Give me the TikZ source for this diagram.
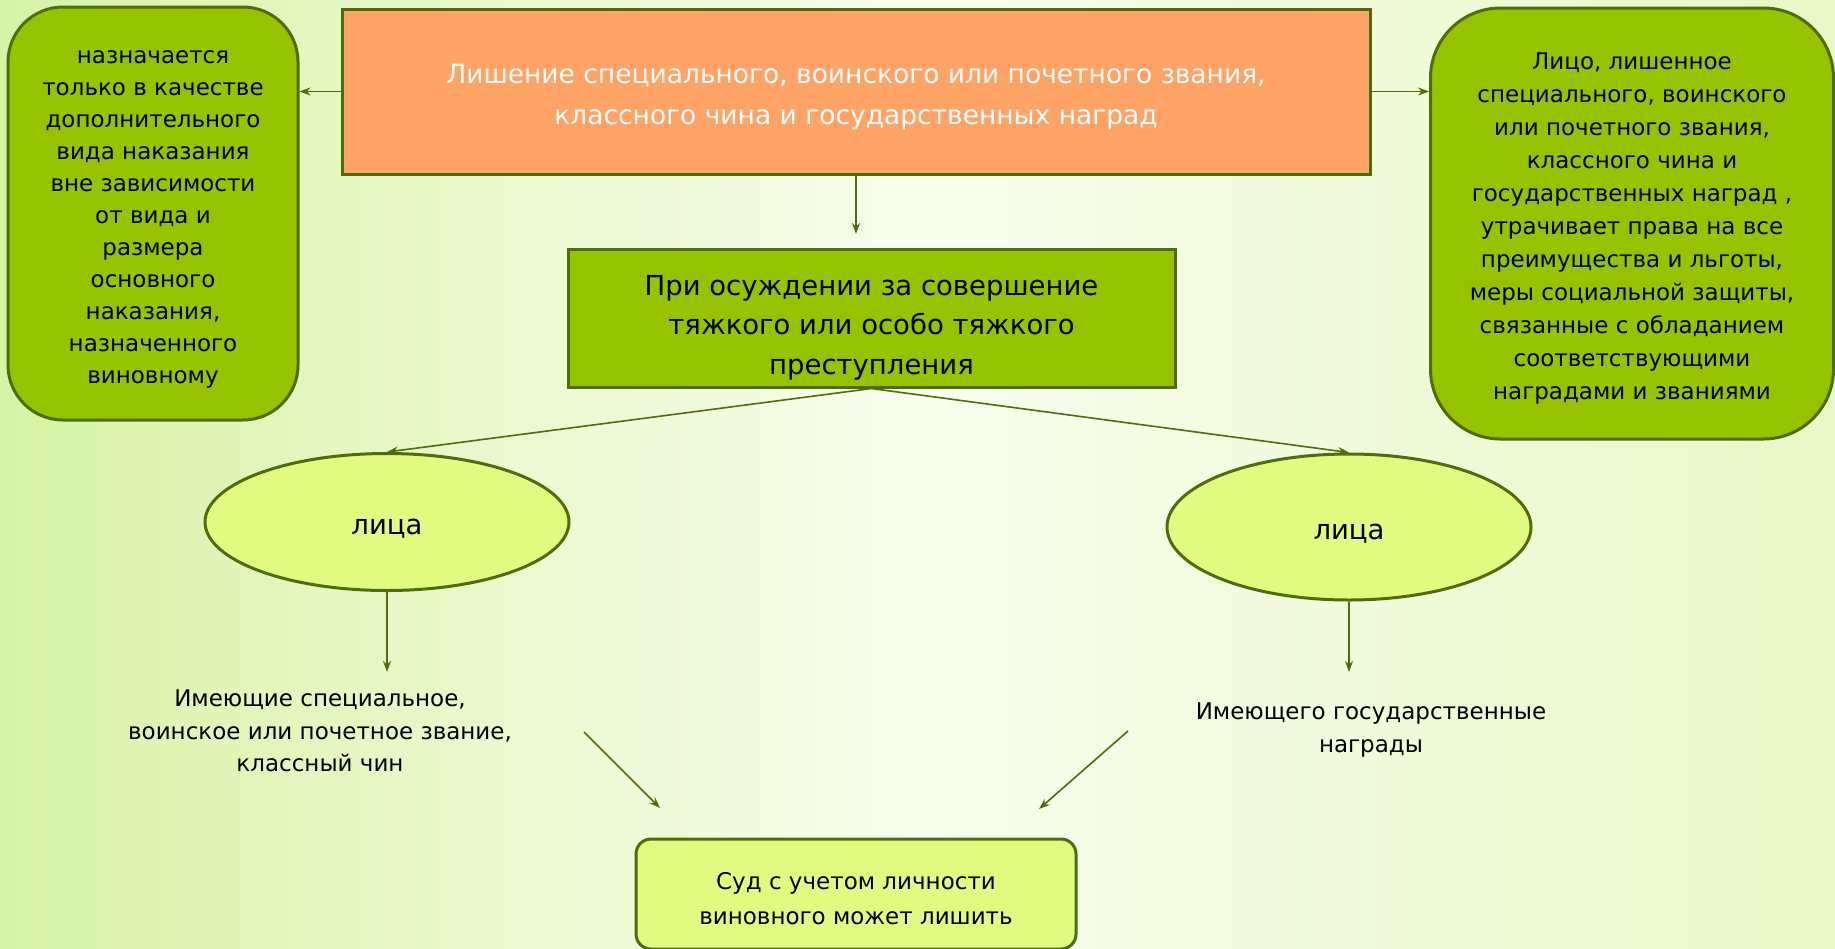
\documentclass[tikz,border=0pt]{standalone}
\usepackage{fontspec}
\setmainfont{DejaVu Sans}
\usetikzlibrary{arrows.meta,shapes.geometric}
\definecolor{bgL}{HTML}{D8F3A6}
\definecolor{bgM}{HTML}{F8FDEE}
\definecolor{bgR}{HTML}{E8F8C6}
\definecolor{boxgreen}{HTML}{95C300}
\definecolor{boxorange}{HTML}{FFA366}
\definecolor{boxlight}{HTML}{E0FB80}
\definecolor{olive}{HTML}{4F6D0C}
\newcommand{\tstrut}[1]{\rule{0pt}{#1pt}}
\tikzset{
  sidebox/.style={draw=olive, line width=3pt, fill=boxgreen, rounded corners=#1, align=center, inner sep=0pt},
  headbox/.style={draw=olive, line width=3pt, fill=boxorange, align=center, inner sep=0pt, text=white,
    font=\fontsize{26.5}{41.5}\selectfont},
  midbox/.style={draw=olive, line width=3pt, fill=boxgreen, align=center, inner sep=0pt,
    font=\fontsize{27.5}{39.5}\selectfont},
  oval/.style={ellipse, draw=olive, line width=3pt, fill=boxlight, inner sep=0pt,
    font=\fontsize{27.5}{34}\selectfont},
  lowlabel/.style={align=center, inner sep=0pt, font=\fontsize{23}{32.5}\selectfont},
  endbox/.style={draw=olive, line width=3pt, fill=boxlight, rounded corners=15pt, align=center, inner sep=0pt,
    font=\fontsize{23}{35}\selectfont},
  arr/.style={draw=olive, line width=1.6pt, -{Stealth[length=11pt,width=8pt]}},
}
\begin{document}
\begin{tikzpicture}[x=1pt,y=-1pt]
\useasboundingbox (0,0) rectangle (1835,948);
\shade[left color=bgL, right color=bgR, middle color=bgM] (0,0) rectangle (1835,948);
% nodes
\node[sidebox=55pt, font=\fontsize{23}{32}\selectfont, minimum width=290pt, minimum height=413pt] (left) at (153,213.5)
  {\tstrut{25}назначается\\только в качестве\\дополнительного\\вида наказания\\вне зависимости\\от вида и\\размера\\основного\\наказания,\\назначенного\\виновному};
\node[headbox, minimum width=1028pt, minimum height=165pt] (head) at (856,91.5)
  {\tstrut{31}Лишение специального, воинского или почетного звания,\\классного чина и государственных наград};
\node[sidebox=70pt, font=\fontsize{23}{33}\selectfont, minimum width=403pt, minimum height=431pt] (right) at (1632,223.5)
  {\tstrut{27}Лицо, лишенное\\специального, воинского\\или почетного звания,\\классного чина и\\государственных наград ,\\утрачивает права на все\\преимущества и льготы,\\меры социальной защиты,\\связанные с обладанием\\соответствующими\\наградами и званиями};
\node[midbox, minimum width=607pt, minimum height=138pt] (mid) at (871.5,318)
  {\tstrut{39}При осуждении за совершение\\тяжкого или особо тяжкого\\преступления};
\node[oval, minimum width=364pt, minimum height=137pt] (le) at (387,522) {\tstrut{29}лица};
\node[oval, minimum width=364pt, minimum height=146pt] (re) at (1349,527) {\tstrut{29}лица};
\node[lowlabel] (ll) at (320,731) {Имеющие специальное,\\воинское или почетное звание,\\классный чин};
\node[lowlabel] (rl) at (1371,730) {Имеющего государственные\\награды};
\node[endbox, minimum width=440pt, minimum height=110pt] (court) at (856,894)
  {\tstrut{26}Суд с учетом личности\\виновного может лишить};
% free ends
\coordinate (hd) at (856,234);
\coordinate (ld) at (387,672);
\coordinate (rd) at (1349,672);
\coordinate (ds1) at (584,732);
\coordinate (de1) at (660,808);
\coordinate (ds2) at (1128,731);
\coordinate (de2) at (1039,809);
% connectors
\draw[arr] (head.west) -- (head.west -| left.east);
\draw[arr] (head.east) -- (head.east -| right.west);
\draw[arr] (head.south) -- (hd);
\draw[arr] (mid.south) -- (le.north);
\draw[arr] (mid.south) -- (re.north);
\draw[arr] (le.south) -- (ld);
\draw[arr] (re.south) -- (rd);
\draw[arr] (ds1) -- (de1);
\draw[arr] (ds2) -- (de2);
\end{tikzpicture}
\end{document}
